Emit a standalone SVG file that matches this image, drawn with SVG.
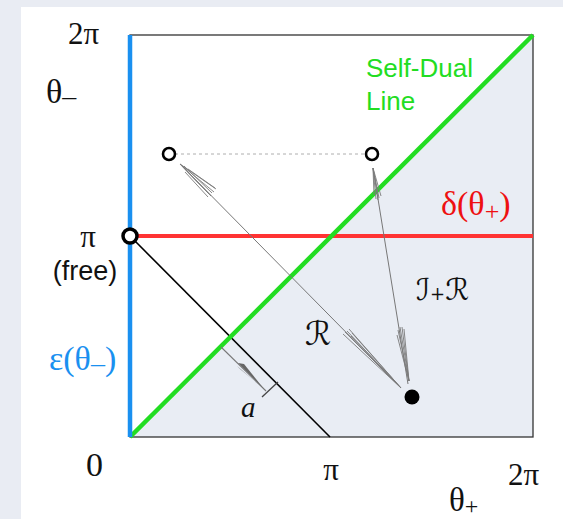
<svg xmlns="http://www.w3.org/2000/svg" width="563" height="519" viewBox="0 0 563 519">
<style>
.serif{font-family:"Liberation Serif","Times New Roman",serif;fill:#111}
.sans{font-family:"Liberation Sans",Arial,sans-serif}
.script{font-family:"DejaVu Serif","DejaVu Sans",serif;font-style:italic;fill:#111}
.fl{stroke:#7a7a7a;stroke-width:0.9;fill:none}
</style>
<rect x="0" y="0" width="563" height="519" fill="#e9ecf3"/>
<rect x="21" y="7" width="542" height="512" fill="#ffffff"/>
<g id="frame">
<rect x="130" y="35" width="403" height="402" fill="#ffffff"/>
<polygon points="130,437 533,35 533,437" fill="#e9edf4"/>
<rect x="130" y="35" width="403" height="402" fill="none" stroke="#333" stroke-width="1.3"/>
</g>
<g id="connectors">
<line x1="130" y1="236" x2="330" y2="437" stroke="#000" stroke-width="1.6"/>
<line x1="130" y1="236" x2="533" y2="236" stroke="#ff3333" stroke-width="4"/>
<line x1="130" y1="437" x2="533" y2="35" stroke="#22dd22" stroke-width="4.5"/>
<line x1="130" y1="35" x2="130" y2="437" stroke="#1a90f0" stroke-width="4.5"/>
<line x1="175" y1="154" x2="365" y2="154" stroke="#999" stroke-width="0.8" stroke-dasharray="3,3"/>
<!-- R arrow -->
<line x1="400" y1="387" x2="180" y2="164" stroke="#777" stroke-width="1"/>
<path class="fl" d="M180,164 L214,192 M180,164 L211,196 M180,164 L209,194 M180,164 L216,189 M185,172 L208,197 M188,169 L215,188 M184,166 L212,193"/>
<path class="fl" d="M401,388 L347,331 M401,388 L343,334 M401,388 L349,329 M401,388 L345,332 M398,385 L351,336 M401,388 L352,333"/>
<!-- I+R arrow -->
<line x1="408" y1="384" x2="373" y2="168" stroke="#777" stroke-width="1"/>
<path class="fl" d="M373,168 L376,199 M373,168 L379,198 M373,168 L381,196 M373,168 L374,195 M375,178 L378,200"/>
<path class="fl" d="M409,381 L400,327 M409,381 L402,327 M409,381 L398,330 M409,381 L404,329 M409,381 L397,335"/>
<!-- a arrow -->
<line x1="221" y1="347" x2="266" y2="391" stroke="#777" stroke-width="1.1"/>
<polygon points="238,363 264,389 244,364" fill="#666"/>
<polygon points="237,366 264,389 240,369" fill="#666"/>
<line x1="262" y1="397" x2="278" y2="382" stroke="#444" stroke-width="1.3"/>
</g>
<g id="node-free">
<circle cx="130" cy="236" r="7" fill="#fff" stroke="#000" stroke-width="3.5"/>
</g>
<g id="node-left">
<circle cx="169" cy="154" r="6" fill="#fff" stroke="#000" stroke-width="2.6"/>
</g>
<g id="node-right">
<circle cx="372" cy="154" r="6" fill="#fff" stroke="#000" stroke-width="2.6"/>
</g>
<g id="node-dot">
<circle cx="412" cy="397" r="7.5" fill="#000"/>
</g>
<g id="labels">
<text class="serif" x="68" y="44" font-size="31">2π</text>
<text class="serif" x="46" y="103" font-size="34">θ<tspan font-size="28" dy="2">–</tspan></text>
<text class="serif" x="88" y="247" font-size="31" text-anchor="middle">π</text>
<text class="sans" x="85" y="280" font-size="27" text-anchor="middle" fill="#111">(free)</text>
<text class="serif" x="49" y="370" font-size="34" style="fill:#1a90f0">ε(θ<tspan font-size="28" dy="2">–</tspan><tspan dy="-2">)</tspan></text>
<text class="sans" x="366" y="77" font-size="26" fill="#22dd22">Self-Dual</text>
<text class="sans" x="366" y="110" font-size="26" fill="#22dd22">Line</text>
<text class="serif" x="441" y="215" font-size="34" style="fill:#ee1111">δ(θ<tspan font-size="26" dy="5">+</tspan><tspan dy="-5">)</tspan></text>
<text class="script" x="416" y="300" font-size="30">ℐ<tspan font-size="18" font-style="normal">+</tspan>ℛ</text>
<text class="script" x="305" y="345" font-size="33">ℛ</text>
<text class="serif" x="241" y="417" font-size="29" font-style="italic">a</text>
<text class="serif" x="86" y="476" font-size="34">0</text>
<text class="serif" x="331" y="480" font-size="31" text-anchor="middle">π</text>
<text class="serif" x="508" y="485" font-size="31">2π</text>
<text class="serif" x="449" y="511" font-size="33">θ<tspan font-size="24" dy="3">+</tspan></text>
</g>
</svg>
